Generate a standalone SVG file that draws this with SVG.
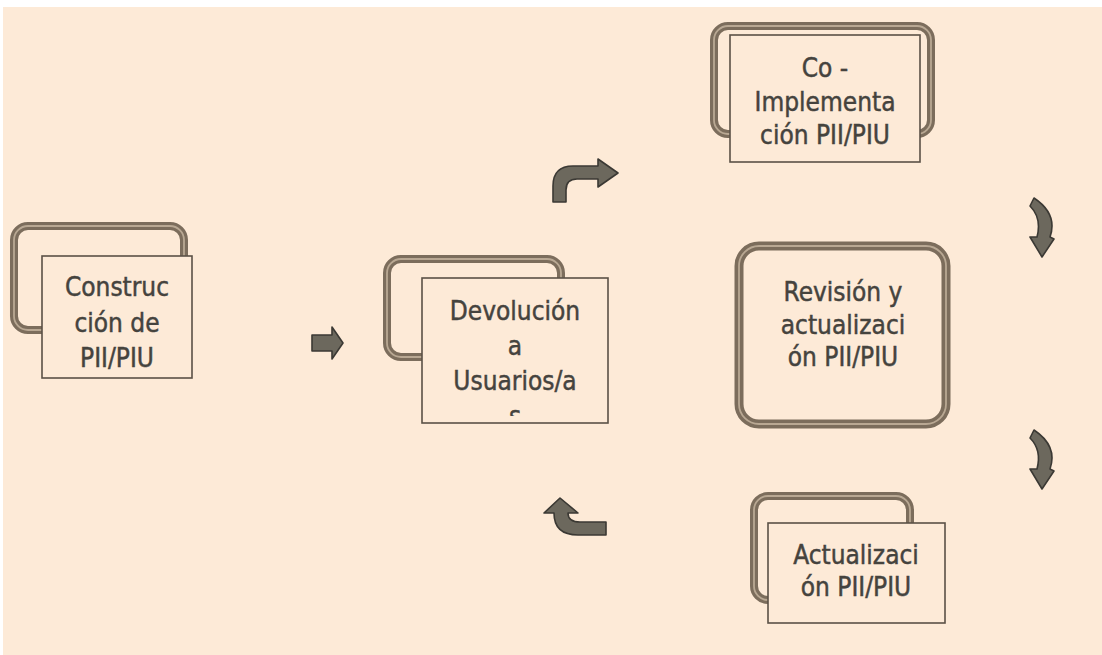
<svg xmlns="http://www.w3.org/2000/svg" width="1102" height="655" viewBox="0 0 1102 655">
<defs>
<style>
.bg{fill:#fdead7}
.back{fill:none;stroke:#7c6d5c;stroke-width:8}
.backhi{fill:none;stroke:#b9a893;stroke-width:1.8}
.front{fill:#fdead7;stroke:#5b5146;stroke-width:1.6}
.t{font-family:"DejaVu Sans Condensed","DejaVu Sans",sans-serif;font-stretch:condensed;font-size:26px;fill:#45433e;stroke:#45433e;stroke-width:0.45;text-anchor:middle}
.arr{fill:#6c685d;stroke:#3b3934;stroke-width:1.6;stroke-linejoin:round}
</style>
<clipPath id="clipDev"><rect x="422" y="278" width="186" height="138"/></clipPath>
</defs>
<rect x="0" y="0" width="1102" height="655" fill="#ffffff"/>
<rect class="bg" x="3" y="7" width="1099" height="648"/>

<g id="connectors">
<path class="arr" d="M312,335 L332,335 L332,327 L343,343 L332,359 L332,351 L312,351 Z"/>
<path class="arr" d="M553,202 L553,186 Q553,166 573,166 L598,166 L598,159 L618,173 L598,187 L598,179 L577,179 Q566,179 566,190 L566,202 Z"/>
<path class="arr" d="M606,522 L580,522 Q568,522 568,513 L578,513 L560,498 L544,513 L554,513 Q554,535 578,535 L606,535 Z"/>
<path class="arr" d="M1034,198 Q1058,214 1050,237 L1054,239 L1042,257 L1030,237 L1037,237 Q1042,218 1030,206 Z"/>
<path class="arr" d="M1034,430 Q1058,446 1050,469 L1054,471 L1042,489 L1030,469 L1037,469 Q1042,450 1030,438 Z"/>
</g>

<g id="node-construccion">
<rect class="back" x="14" y="226" width="170" height="104" rx="14"/>
<rect class="backhi" x="14" y="226" width="170" height="104" rx="14"/>
<rect class="front" x="42" y="256" width="150" height="122"/>
<text class="t" x="117" y="296">Construc</text>
<text class="t" x="117" y="332">ción de</text>
<text class="t" x="117" y="367">PII/PIU</text>
</g>

<g id="node-devolucion">
<rect class="back" x="387" y="259" width="174" height="98" rx="14"/>
<rect class="backhi" x="387" y="259" width="174" height="98" rx="14"/>
<rect class="front" x="422" y="278" width="186" height="145"/>
<text class="t" x="515" y="320">Devolución</text>
<text class="t" x="515" y="355">a</text>
<text class="t" x="515" y="390">Usuarios/a</text>
<text class="t" x="515" y="425" clip-path="url(#clipDev)">s</text>
</g>

<g id="node-coimplementacion">
<rect class="back" x="714" y="26" width="217" height="108" rx="14"/>
<rect class="backhi" x="714" y="26" width="217" height="108" rx="14"/>
<rect class="front" x="730" y="35" width="190" height="127"/>
<text class="t" x="825" y="77">Co -</text>
<text class="t" x="825" y="111">Implementa</text>
<text class="t" x="825" y="144">ción PII/PIU</text>
</g>

<g id="node-revision">
<rect class="back" x="739" y="246" width="207" height="178" rx="20" style="stroke-width:9"/>
<rect class="backhi" x="739" y="246" width="207" height="178" rx="20"/>
<text class="t" x="843" y="301">Revisión y</text>
<text class="t" x="843" y="334">actualizaci</text>
<text class="t" x="843" y="366">ón PII/PIU</text>
</g>

<g id="node-actualizacion">
<rect class="back" x="754" y="496" width="156" height="104" rx="14"/>
<rect class="backhi" x="754" y="496" width="156" height="104" rx="14"/>
<rect class="front" x="768" y="523" width="177" height="100"/>
<text class="t" x="856" y="564">Actualizaci</text>
<text class="t" x="856" y="596">ón PII/PIU</text>
</g>
</svg>
